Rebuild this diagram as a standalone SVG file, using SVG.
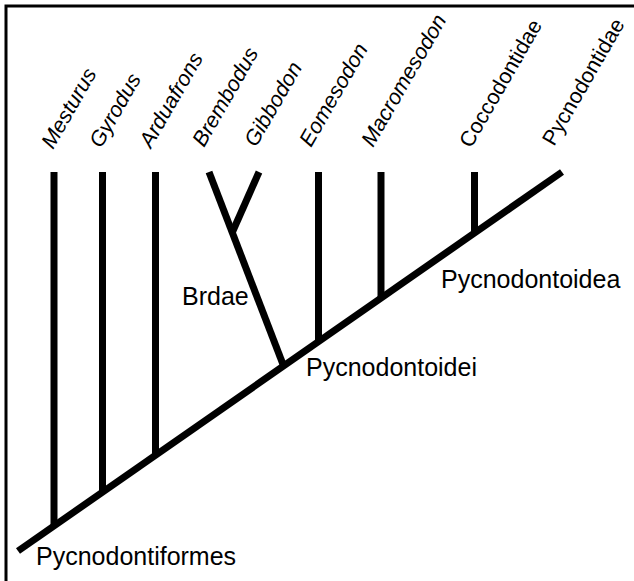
<svg xmlns="http://www.w3.org/2000/svg" width="634" height="581" viewBox="0 0 634 581">
<style>
.br{stroke:#000;stroke-width:7;fill:none;stroke-linecap:butt}
.tx{font-family:"Liberation Sans",Arial,sans-serif;fill:#000}
.rl{font-size:21.5px}
.it{font-style:italic}
.cl{font-size:25px}
</style>
<rect x="0" y="0" width="634" height="581" fill="#fff"/>
<rect x="6" y="6" width="700" height="700" fill="none" stroke="#000" stroke-width="3"/>
<g id="connectors">
<line class="br" x1="18" y1="551" x2="562" y2="172"/>
<line class="br" x1="54" y1="172" x2="54" y2="526"/>
<line class="br" x1="102.5" y1="172" x2="102.5" y2="492"/>
<line class="br" x1="155.5" y1="172" x2="155.5" y2="455"/>
<line class="br" x1="209" y1="172" x2="284" y2="367"/>
<line class="br" x1="259" y1="172" x2="232" y2="233"/>
<line class="br" x1="318.5" y1="172" x2="318.5" y2="342"/>
<line class="br" x1="381" y1="172" x2="381" y2="298"/>
<line class="br" x1="474.5" y1="172" x2="474.5" y2="233"/>
</g>
<g id="Mesturus"><text class="tx rl it" transform="translate(53,150) rotate(-60)">Mesturus</text></g>
<g id="Gyrodus"><text class="tx rl it" transform="translate(101,149) rotate(-60)">Gyrodus</text></g>
<g id="Arduafrons"><text class="tx rl it" transform="translate(151,149) rotate(-60)">Arduafrons</text></g>
<g id="Brembodus"><text class="tx rl it" transform="translate(204,148) rotate(-60)">Brembodus</text></g>
<g id="Gibbodon"><text class="tx rl it" transform="translate(256,148) rotate(-60)">Gibbodon</text></g>
<g id="Eomesodon"><text class="tx rl it" transform="translate(311,148) rotate(-60)">Eomesodon</text></g>
<g id="Macromesodon"><text class="tx rl it" transform="translate(373,148) rotate(-60)">Macromesodon</text></g>
<g id="Coccodontidae"><text class="tx rl" transform="translate(471,149) rotate(-60)">Coccodontidae</text></g>
<g id="Pycnodontidae"><text class="tx rl" transform="translate(554,147) rotate(-60)">Pycnodontidae</text></g>
<g id="Brdae"><text class="tx cl" x="182" y="305">Brdae</text></g>
<g id="Pycnodontoidei"><text class="tx cl" x="306" y="376">Pycnodontoidei</text></g>
<g id="Pycnodontoidea"><text class="tx cl" x="441" y="288">Pycnodontoidea</text></g>
<g id="Pycnodontiformes"><text class="tx cl" x="36" y="565">Pycnodontiformes</text></g>
</svg>
